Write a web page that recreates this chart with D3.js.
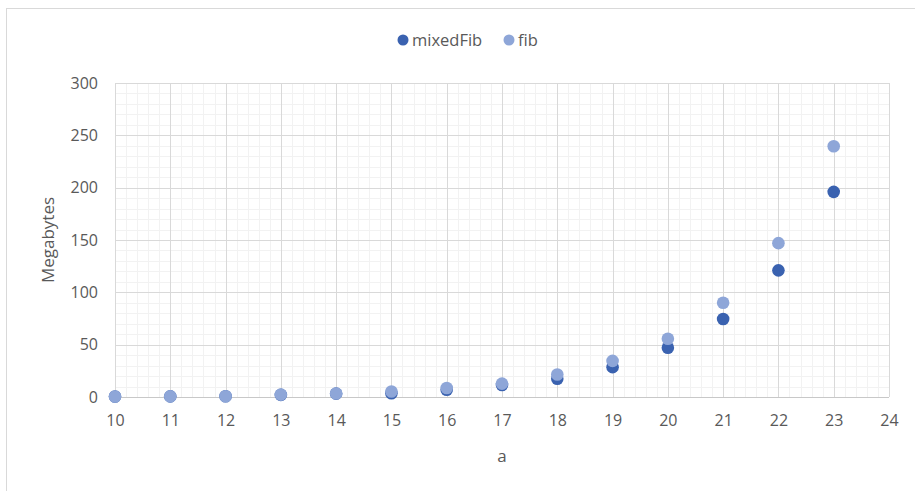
<!DOCTYPE html>
<html><head><meta charset="utf-8">
<script src="https://cdn.jsdelivr.net/npm/d3@7"></script>
<style>body{margin:0;background:#fff;} svg{display:block;}</style>
</head><body>
<svg id="c" width="915" height="491"></svg>
<script>
const aValues = [10,11,12,13,14,15,16,17,18,19,20,21,22,23];
const mixedFib = [0.5,0.6,0.7,2,3.2,3.6,7,11.5,17.5,28.5,47,74.5,121,196];
const fib = [0.5,0.6,0.7,2.3,3.4,5.2,8.6,12.8,21.5,34.5,55.7,90,147,239.5];
const xTicks = [10,11,12,13,14,15,16,17,18,19,20,21,22,23,24];
const yTicks = [0,50,100,150,200,250,300];
const seriesNames = ["mixedFib","fib"];
const colors = ["#3A62B0","#8EA6D8"];

const svg = d3.select("#c");
const font = "'Open Sans', 'Liberation Sans', sans-serif";
const m = {l:115, r:889, t:83, b:397};

svg.append("rect").attr("x",6.5).attr("y",8.5).attr("width",920).attr("height",500)
  .attr("fill","#fff").attr("stroke","#d9d9d9").attr("stroke-width",1);

const x = d3.scaleLinear().domain([10,24]).range([m.l,m.r]);
const y = d3.scaleLinear().domain([0,300]).range([m.b,m.t]);

const g = svg.append("g");
const xMinor = d3.range(10,24.0001,0.2);
const yMinor = d3.range(0,300.0001,10);
g.selectAll(".xm").data(xMinor).enter().append("line")
  .attr("x1",d=>Math.round(x(d))+0.5).attr("x2",d=>Math.round(x(d))+0.5)
  .attr("y1",m.t).attr("y2",m.b).attr("stroke","#f2f2f2");
g.selectAll(".ym").data(yMinor).enter().append("line")
  .attr("y1",d=>Math.round(y(d))+0.5).attr("y2",d=>Math.round(y(d))+0.5)
  .attr("x1",m.l).attr("x2",m.r).attr("stroke","#f2f2f2");
g.selectAll(".xM").data(xTicks).enter().append("line")
  .attr("x1",d=>Math.round(x(d))+0.5).attr("x2",d=>Math.round(x(d))+0.5)
  .attr("y1",m.t).attr("y2",m.b).attr("stroke","#d9d9d9");
g.selectAll(".yM").data(yTicks).enter().append("line")
  .attr("y1",d=>Math.round(y(d))+0.5).attr("y2",d=>Math.round(y(d))+0.5)
  .attr("x1",m.l).attr("x2",m.r).attr("stroke","#d9d9d9");
svg.append("line").attr("x1",m.l).attr("x2",m.r).attr("y1",m.b+0.5).attr("y2",m.b+0.5)
  .attr("stroke","#c8c8c8");

const xAxis = svg.append("g").attr("transform",`translate(0,${m.b})`)
  .call(d3.axisBottom(x).tickValues(xTicks).tickSize(0).tickPadding(18).tickFormat(d3.format("d")));
const yAxis = svg.append("g").attr("transform",`translate(${m.l},0)`)
  .call(d3.axisLeft(y).tickValues(yTicks).tickSize(0).tickPadding(17).tickFormat(d3.format("d")));
[xAxis,yAxis].forEach(ax=>{
  ax.select(".domain").remove();
  ax.selectAll("text").attr("fill","#595959").style("font-family",font).style("font-size","16px");
});

const data = seriesNames.map((n,i)=>({name:n,color:colors[i],vals:(i===0?mixedFib:fib)}));
data.forEach(s=>{
  svg.append("g").selectAll("circle").data(s.vals).enter().append("circle")
    .attr("cx",(d,i)=>x(aValues[i])).attr("cy",d=>y(d)).attr("r",6.3)
    .attr("fill",s.color);
});

svg.append("text").attr("x",502).attr("y",462).attr("text-anchor","middle")
  .attr("fill","#595959").style("font-family",font).style("font-size","17px").text("a");
svg.append("text").attr("transform","translate(54,240) rotate(-90)").attr("text-anchor","middle")
  .attr("fill","#595959").style("font-family",font).style("font-size","17px").text("Megabytes");

const legX = [403,509];
const leg = svg.append("g");
data.forEach((s,i)=>{
  leg.append("circle").attr("cx",legX[i]).attr("cy",40).attr("r",5.5).attr("fill",s.color);
  leg.append("text").attr("x",legX[i]+9).attr("y",46).attr("fill","#595959")
    .style("font-family",font).style("font-size","16.5px").text(s.name);
});
</script>
</body></html>
